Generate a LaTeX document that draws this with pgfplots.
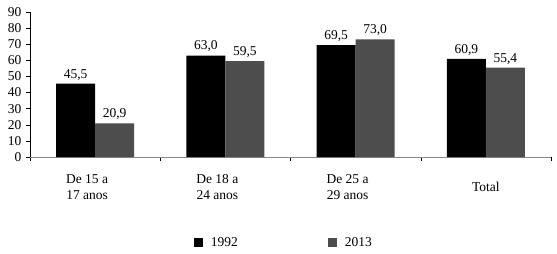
\documentclass[border=0pt]{standalone}
\usepackage{fontspec}
\setmainfont{Liberation Serif}
\usepackage{pgfplots}
\pgfplotsset{compat=1.18}
\definecolor{bargray}{HTML}{4D4D4D}
\definecolor{axgray}{HTML}{888888}
\begin{document}
\begin{tikzpicture}
\begin{axis}[
  at={(0,0)}, anchor=south west,
  scale only axis, width=521pt, height=145pt,
  ybar=0pt, bar width=39pt,
  xmin=-0.5, xmax=3.5, ymin=0, ymax=90,
  ytick={0,10,...,90},
  xtick={0,1,2,3},
  xticklabels={{De 15 a\hspace*{16pt}\\17 anos\hspace*{16pt}},{De 18 a\hspace*{16pt}\\24 anos\hspace*{16pt}},{De 25 a\hspace*{16pt}\\29 anos\hspace*{16pt}},{Total}},
  minor xtick={-0.5,0.5,1.5,2.5,3.5},
  x tick style={draw=none},
  minor x tick style={draw=black, thin},
  minor tick length=4pt,
  major tick length=4pt,
  tick align=outside,
  axis x line*=bottom, axis y line*=left,
  x axis line style={draw=axgray, thin, -},
  y axis line style={draw=black, thin, -},
  y tick style={black, thin},
  /pgf/number format/assume math mode=true,
  tick label style={font=\fontsize{13.5}{16}\selectfont},
  xticklabel style={anchor=center, align=center, yshift=-26pt},
  yticklabel style={xshift=-1pt},
  nodes near coords,
  nodes near coords style={font=\fontsize{13.5}{16}\selectfont, /pgf/number format/.cd, fixed, fixed zerofill, precision=1, use comma, assume math mode=true},
  legend style={at={(0.4875,-0.593)}, anchor=center, draw=none, fill=none, legend columns=2,
    font=\fontsize{13.5}{16}\selectfont,
    /tikz/every even column/.append style={column sep=88pt}},
  legend image code/.code={\fill[#1] (0pt,-4.5pt) rectangle (9pt,4.5pt); \path (15pt,0pt);},
]
\addplot[fill=black, draw=none] coordinates {(0,45.5) (1,63.0) (2,69.5) (3,60.9)};
\addplot[fill=bargray, draw=none] coordinates {(0,20.9) (1,59.5) (2,73.0) (3,55.4)};
\legend{1992,2013}
\end{axis}
\pgfresetboundingbox
\path[use as bounding box] (-30pt,-97pt) rectangle (527pt,157pt);
\end{tikzpicture}
\end{document}
